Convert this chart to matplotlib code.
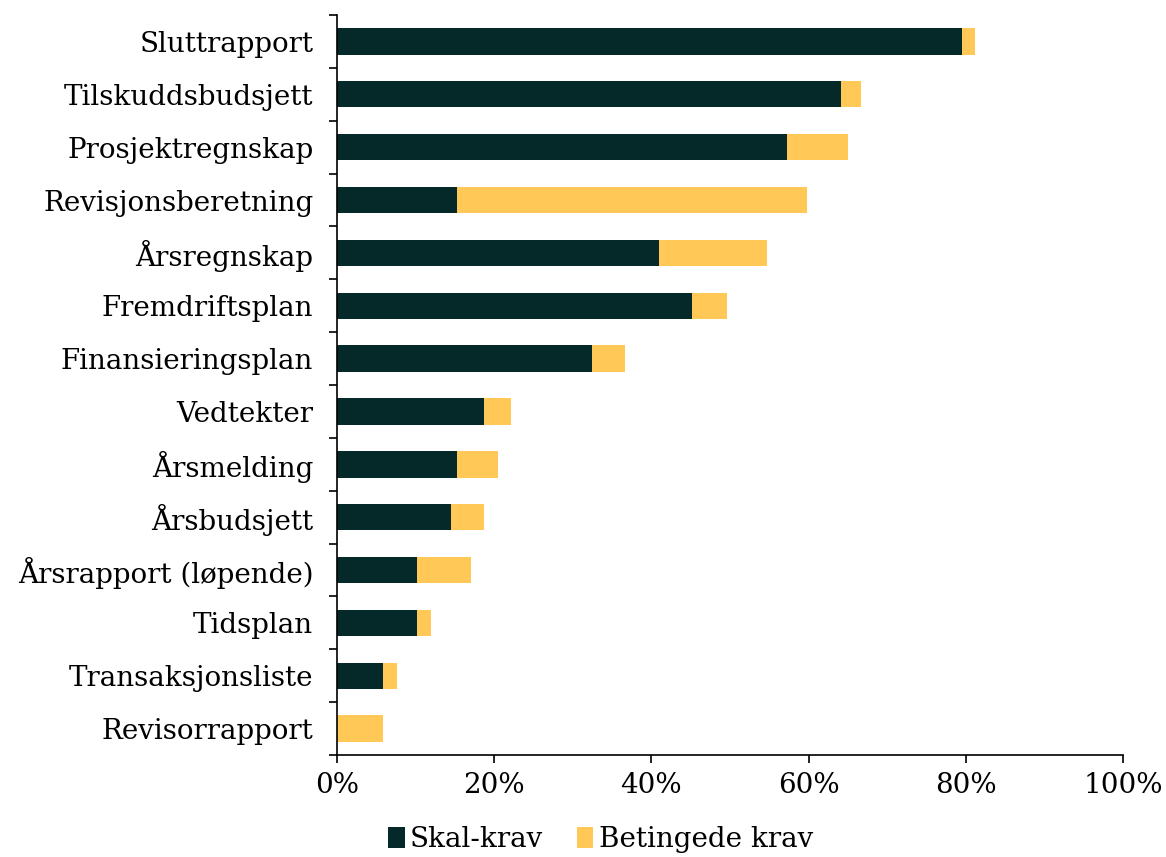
import matplotlib
matplotlib.use("Agg")
import matplotlib.pyplot as plt
from matplotlib.ticker import FixedLocator, PercentFormatter
import numpy as np

categories = ["Sluttrapport", "Tilskuddsbudsjett", "Prosjektregnskap", "Revisjonsberetning",
              "Årsregnskap", "Fremdriftsplan", "Finansieringsplan", "Vedtekter",
              "Årsmelding", "Årsbudsjett", "Årsrapport (løpende)", "Tidsplan",
              "Transaksjonsliste", "Revisorrapport"]
skal_krav = [79.5, 64.1, 57.3, 15.3, 41.0, 45.2, 32.4, 18.7, 15.3, 14.5, 10.2, 10.2, 5.9, 0.0]
betingede_krav = [1.7, 2.6, 7.7, 44.5, 13.7, 4.4, 4.2, 3.4, 5.2, 4.2, 6.8, 1.8, 1.7, 5.9]

dark = "#052829"
yellow = "#FFC857"

plt.rcParams['font.family'] = ['DejaVu Serif']

fig = plt.figure(figsize=(11.66, 8.57), dpi=100)
ax = fig.add_axes([0.289, 0.119, 0.674, 0.8635])

y = np.arange(len(categories))
ax.barh(y, skal_krav, height=0.5, color=dark, label="Skal-krav")
ax.barh(y, betingede_krav, left=skal_krav, height=0.5, color=yellow, label="Betingede krav")

ax.set_ylim(len(categories) - 0.5, -0.5)
ax.set_xlim(0, 100)
ax.set_yticks(y)
ax.set_yticklabels(categories, fontsize=20)
ax.tick_params(axis='y', which='major', length=0, pad=17)
ax.yaxis.set_minor_locator(FixedLocator(np.arange(-0.5, len(categories), 1)))
ax.tick_params(axis='y', which='minor', length=6, width=1.2)
ax.set_xticks([0, 20, 40, 60, 80, 100])
ax.xaxis.set_major_formatter(PercentFormatter(decimals=0))
ax.tick_params(axis='x', length=6, width=1.2, labelsize=20, pad=6)

for s in ['top', 'right']:
    ax.spines[s].set_visible(False)
for s in ['left', 'bottom']:
    ax.spines[s].set_linewidth(1.2)

fig.legend(loc='lower center', bbox_to_anchor=(0.515, -0.025), ncol=2, frameon=False,
           fontsize=20, handlelength=0.6, handleheight=0.8, handletextpad=0.2,
           columnspacing=1.2)

fig.savefig("out.png", dpi=100)
